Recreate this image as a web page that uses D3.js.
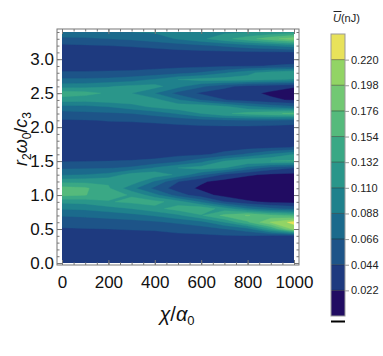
<!DOCTYPE html>
<html>
<head>
<meta charset="utf-8">
<script src="https://cdn.jsdelivr.net/npm/d3@7"></script>
<style>
    body { margin: 0; background: #fff; }
    text { font-family: "Liberation Sans", Arial, sans-serif; }
</style>
</head>
<body>
<script>
// grid columns (chi / alpha0) and rows (r2 omega0 / c3)
const xValues = [0, 100, 200, 300, 400, 500, 600, 700, 800, 900, 1000];
const yValues = [0.0, 0.1, 0.2, 0.3, 0.4, 0.5, 0.6, 0.7, 0.8, 0.9, 1.0, 1.1, 1.2, 1.3, 1.4, 1.5, 1.6,
                 1.7, 1.8, 1.9, 2.0, 2.1, 2.2, 2.3, 2.4, 2.5, 2.6, 2.7, 2.8, 2.9, 3.0, 3.1, 3.2, 3.3, 3.4];

// U (nJ), one row per y value, bottom row first
const energyRows = [
    [.032, .032, .032, .032, .032, .032, .032, .032, .032, .032, .032],
    [.033, .033, .033, .033, .033, .033, .033, .033, .033, .033, .033],
    [.034, .034, .034, .034, .034, .034, .034, .034, .034, .034, .034],
    [.035, .035, .035, .035, .035, .036, .036, .037, .037, .037, .036],
    [.038, .038, .038, .038, .038, .040, .040, .042, .043, .040, .035],
    [.042, .043, .044, .045, .046, .050, .055, .065, .080, .130, .205],
    [.052, .054, .056, .058, .062, .070, .080, .110, .150, .200, .228],
    [.068, .070, .074, .080, .090, .105, .130, .160, .178, .160, .150],
    [.090, .092, .100, .110, .125, .142, .150, .120, .090, .070, .060],
    [.115, .118, .130, .137, .140, .120, .085, .045, .025, .018, .015],
    [.160, .155, .140, .130, .095, .055, .030, .015, .010, .008, .008],
    [.162, .158, .135, .095, .060, .032, .018, .010, .008, .007, .007],
    [.125, .125, .128, .125, .085, .045, .025, .014, .010, .008, .008],
    [.085, .088, .095, .120, .125, .105, .070, .040, .025, .018, .016],
    [.062, .063, .064, .070, .090, .110, .120, .110, .080, .055, .045],
    [.042, .043, .044, .045, .048, .060, .080, .110, .128, .132, .135],
    [.035, .035, .036, .036, .036, .038, .040, .050, .070, .090, .110],
    [.033, .033, .033, .033, .033, .033, .034, .035, .036, .040, .045],
    [.032, .032, .032, .032, .032, .032, .032, .033, .033, .034, .036],
    [.033, .033, .033, .033, .033, .033, .034, .034, .034, .035, .034],
    [.036, .036, .037, .037, .038, .039, .040, .040, .040, .038, .035],
    [.042, .043, .045, .046, .048, .052, .058, .062, .066, .065, .060],
    [.058, .060, .062, .066, .075, .090, .110, .128, .140, .150, .158],
    [.080, .082, .088, .100, .115, .125, .130, .115, .095, .080, .070],
    [.120, .118, .123, .125, .118, .090, .065, .045, .035, .025, .020],
    [.145, .140, .128, .110, .088, .058, .040, .030, .026, .019, .012],
    [.100, .102, .108, .115, .118, .095, .070, .050, .036, .030, .024],
    [.070, .070, .072, .078, .090, .110, .118, .120, .118, .112, .108],
    [.046, .046, .047, .048, .052, .058, .068, .085, .105, .120, .130],
    [.036, .036, .036, .036, .037, .038, .039, .040, .042, .045, .048],
    [.033, .033, .033, .033, .033, .033, .034, .034, .034, .034, .034],
    [.034, .034, .034, .035, .035, .036, .037, .038, .039, .040, .040],
    [.040, .042, .044, .046, .050, .056, .062, .070, .080, .090, .100],
    [.060, .062, .066, .070, .078, .090, .105, .125, .145, .168, .190],
    [.085, .085, .086, .088, .090, .095, .100, .105, .108, .112, .120]
];

const levels = [0, 0.022, 0.044, 0.066, 0.088, 0.110, 0.132, 0.154, 0.176, 0.198, 0.220];
const levelTop = 0.242;
const levelLabels = ['0.022', '0.044', '0.066', '0.088', '0.110', '0.132', '0.154', '0.176', '0.198', '0.220'];
const bandColors = ['#210c62', '#1e3a7f', '#1d5488', '#1b6a8c', '#1f818c', '#2a968a',
                    '#3aa885', '#55ba7c', '#72c873', '#92d465', '#e8e25a'];

const xTicks = [0, 200, 400, 600, 800, 1000];
const yTicks = [0, 0.5, 1.0, 1.5, 2.0, 2.5, 3.0];

drawContourPlot();

function drawContourPlot()
{
    const width = 383;
    const height = 356;
    const frame = {left: 57, right: 299, top: 29, bottom: 265};
    const frameColor = '#777';

    const svg = d3.select('body')
        .append('svg')
        .attr('width', width)
        .attr('height', height);

    const x = d3.scaleLinear().domain([0, 1000]).range([62, 294]);
    const y = d3.scaleLinear().domain([0, 3.4]).range([263, 32]);

    // d3.contours puts sample k at grid coordinate k + 0.5
    const nx = xValues.length;
    const ny = yValues.length;
    const gridX = d3.scaleLinear().domain([0.5, nx - 0.5]).range([xValues[0], xValues[nx - 1]]);
    const gridY = d3.scaleLinear().domain([0.5, ny - 0.5]).range([yValues[0], yValues[ny - 1]]);

    const contours = d3.contours()
        .size([nx, ny])
        .thresholds(levels)(energyRows.flat());

    const path = d3.geoPath(d3.geoTransform({
        point: function(px, py) { this.stream.point(x(gridX(px)), y(gridY(py))); }
    }));

    svg.append('clipPath')
        .attr('id', 'plot-clip')
        .append('rect')
        .attr('x', x(0)).attr('y', y(3.4))
        .attr('width', x(1000) - x(0)).attr('height', y(0) - y(3.4));

    svg.append('g')
        .attr('clip-path', 'url(#plot-clip)')
        .selectAll('path')
        .data(contours)
        .enter()
        .append('path')
        .attr('d', path)
        .attr('fill', (d, i) => bandColors[i])
        .attr('stroke', (d, i) => bandColors[i])
        .attr('stroke-width', 0.4);

    // frame with inward ticks on all four sides
    svg.append('rect')
        .attr('x', frame.left).attr('y', frame.top)
        .attr('width', frame.right - frame.left).attr('height', frame.bottom - frame.top)
        .attr('fill', 'none')
        .attr('stroke', frameColor);

    const tickFont = g =>
    {
        g.select('.domain').remove();
        g.selectAll('line').attr('stroke', frameColor);
        g.selectAll('text').attr('font-size', 17).attr('fill', '#111')
            .attr('font-family', '"Liberation Sans", Arial, sans-serif');
    };

    const minorX = x.ticks(20);
    const minorY = y.ticks(34);

    svg.append('g').attr('transform', `translate(0,${frame.bottom})`)
        .call(d3.axisBottom(x).tickValues(minorX).tickSize(-2.5).tickFormat(''))
        .call(tickFont);
    svg.append('g').attr('transform', `translate(0,${frame.bottom})`)
        .call(d3.axisBottom(x).tickValues(xTicks).tickSize(-5).tickPadding(11).tickFormat(d3.format('d')))
        .call(tickFont);
    svg.append('g').attr('transform', `translate(0,${frame.top})`)
        .call(d3.axisTop(x).tickValues(minorX).tickSize(-2.5).tickFormat(''))
        .call(tickFont);
    svg.append('g').attr('transform', `translate(0,${frame.top})`)
        .call(d3.axisTop(x).tickValues(xTicks).tickSize(-5).tickFormat(''))
        .call(tickFont);

    svg.append('g').attr('transform', `translate(${frame.left},0)`)
        .call(d3.axisLeft(y).tickValues(minorY).tickSize(-2.5).tickFormat(''))
        .call(tickFont);
    svg.append('g').attr('transform', `translate(${frame.left},0)`)
        .call(d3.axisLeft(y).tickValues(yTicks).tickSize(-5).tickPadding(3).tickFormat(d3.format('.1f')))
        .call(tickFont);
    svg.append('g').attr('transform', `translate(${frame.right},0)`)
        .call(d3.axisRight(y).tickValues(minorY).tickSize(-2.5).tickFormat(''))
        .call(tickFont);
    svg.append('g').attr('transform', `translate(${frame.right},0)`)
        .call(d3.axisRight(y).tickValues(yTicks).tickSize(-5).tickFormat(''))
        .call(tickFont);

    // axis titles
    const xTitle = svg.append('text')
        .attr('x', 177).attr('y', 321)
        .attr('text-anchor', 'middle')
        .attr('font-size', 20)
        .attr('fill', '#111');
    xTitle.append('tspan').attr('font-style', 'italic').text('χ');
    xTitle.append('tspan').text('/');
    xTitle.append('tspan').attr('font-style', 'italic').text('α');
    xTitle.append('tspan').attr('font-size', 13).attr('dy', 4).text('0');

    const yTitle = svg.append('text')
        .attr('transform', 'translate(27,139) rotate(-90)')
        .attr('text-anchor', 'middle')
        .attr('font-size', 18)
        .attr('fill', '#111');
    yTitle.append('tspan').attr('font-style', 'italic').text('r');
    yTitle.append('tspan').attr('font-size', 12).attr('dy', 4).text('2');
    yTitle.append('tspan').attr('font-style', 'italic').attr('dy', -4).text('ω');
    yTitle.append('tspan').attr('font-size', 12).attr('dy', 4).text('0');
    yTitle.append('tspan').attr('dy', -4).text('/');
    yTitle.append('tspan').attr('font-style', 'italic').text('c');
    yTitle.append('tspan').attr('font-size', 12).attr('dy', 4).text('3');

    // colour bar
    const bar = {left: 331, width: 14};
    const cb = d3.scaleLinear().domain([0, levelTop]).range([316, 34]);
    const bandEdges = levels.concat([levelTop]);

    const legend = svg.append('g').attr('id', 'contour-legend');

    legend.selectAll('rect.band')
        .data(levels)
        .enter()
        .append('rect')
        .attr('class', 'band')
        .attr('x', bar.left)
        .attr('y', (d, i) => cb(bandEdges[i + 1]))
        .attr('width', bar.width)
        .attr('height', (d, i) => cb(bandEdges[i]) - cb(bandEdges[i + 1]))
        .attr('fill', (d, i) => bandColors[i]);

    legend.selectAll('line.sep')
        .data(levels.slice(1))
        .enter()
        .append('line')
        .attr('class', 'sep')
        .attr('x1', bar.left).attr('x2', bar.left + bar.width)
        .attr('y1', d => cb(d)).attr('y2', d => cb(d))
        .attr('stroke', 'rgba(0,0,0,0.4)');

    legend.append('rect')
        .attr('x', bar.left).attr('y', cb(levelTop))
        .attr('width', bar.width).attr('height', cb(0) - cb(levelTop))
        .attr('fill', 'none')
        .attr('stroke', '#999');

    legend.append('g')
        .attr('transform', `translate(${bar.left + bar.width},0)`)
        .call(d3.axisRight(cb).tickValues(levels.slice(1)).tickSize(4).tickPadding(2)
            .tickFormat((d, i) => levelLabels[i]))
        .call(g =>
        {
            g.select('.domain').remove();
            g.selectAll('line').attr('stroke', '#999');
            g.selectAll('text').attr('font-size', 11).attr('fill', '#222')
                .attr('font-family', '"Liberation Sans", Arial, sans-serif');
        });

    // under-range marker
    legend.append('line')
        .attr('x1', bar.left).attr('x2', bar.left + bar.width)
        .attr('y1', 321.5).attr('y2', 321.5)
        .attr('stroke', '#000')
        .attr('stroke-width', 2);

    const title = legend.append('text')
        .attr('x', 333).attr('y', 22)
        .attr('font-size', 11)
        .attr('fill', '#222');
    title.append('tspan').attr('font-style', 'italic').text('U');
    title.append('tspan').text('(nJ)');
    legend.append('line')
        .attr('x1', 333.5).attr('x2', 341.5)
        .attr('y1', 11.5).attr('y2', 11.5)
        .attr('stroke', '#222');
}
</script>
</body>
</html>
